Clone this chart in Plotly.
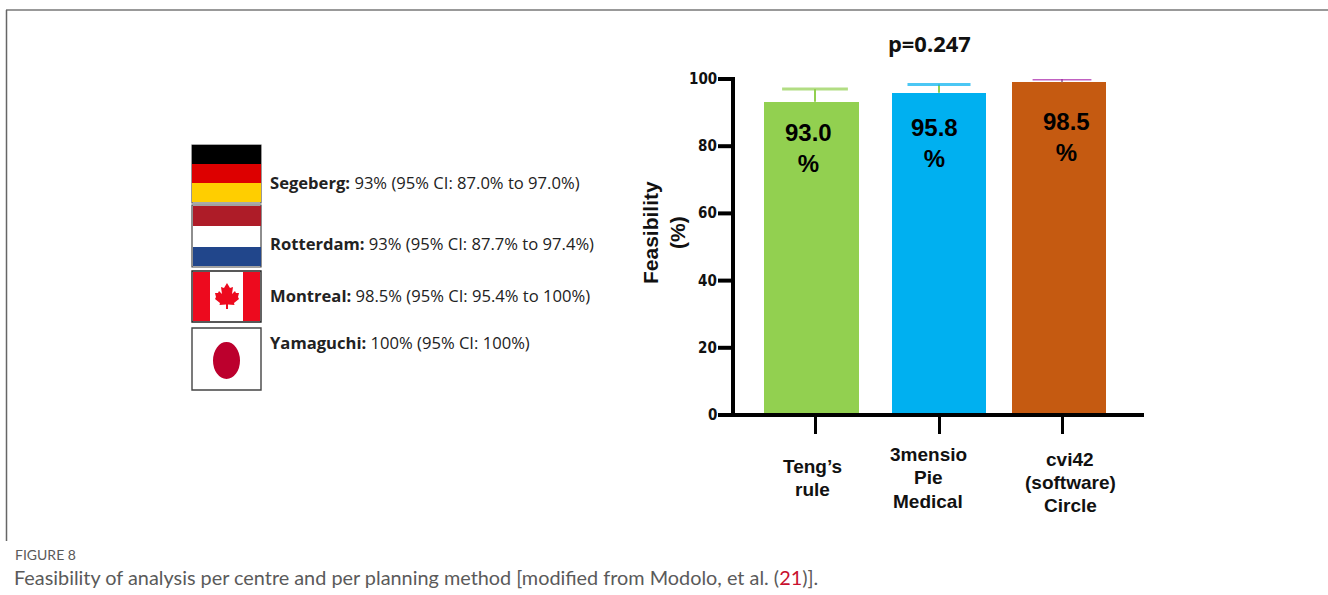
import plotly.graph_objects as go

W, H = 1328, 595

methods = ["Teng’s<br>rule", "3mensio<br>Pie<br>Medical", "cvi42<br>(software)<br>Circle"]
feasibility = [93.2, 95.9, 99.0]
ci_upper = [97.0, 98.4, 100.0]
bar_labels = ["93.0<br>%", "95.8<br>%", "98.5<br>%"]
bar_colors = ["#92D050", "#00B0F0", "#C55A11"]
cap_colors = ["#92D050", "#00B0F0", "#A61FA8"]
stem_colors = ["#92D050", "#92D050", "#A98AA8"]
y_ticks = [0, 20, 40, 60, 80, 100]

centres = ["<b>Segeberg:</b> 93% (95% CI: 87.0% to 97.0%)",
           "<b>Rotterdam:</b> 93% (95% CI: 87.7% to 97.4%)",
           "<b>Montreal:</b> 98.5% (95% CI: 95.4% to 100%)",
           "<b>Yamaguchi:</b> 100% (95% CI: 100%)"]

# pixel helpers for decoration (flags, frame, captions)
def px(x): return x / W
def py(y): return 1 - y / H

# axis layout in pixels
X0, X1 = 718, 1144
Y100, Y0 = 79, 415
bar_x = [811, 939, 1059]
bar_w = [95, 94, 94]
tick_x = [815, 939, 1062]
cap_w = [47, 45, 42]
label_x = [813, 928, 1070]
label_line_y = [[466, 489], [454, 477, 501], [459, 482, 505]]

fig = go.Figure()
for i in range(3):
    fig.add_trace(go.Bar(x=[bar_x[i]], y=[feasibility[i]], width=[bar_w[i]],
                         marker=dict(color=bar_colors[i], line=dict(width=0)),
                         showlegend=False, hoverinfo="skip"))
for i in range(3):
    fig.add_trace(go.Scatter(x=[tick_x[i], tick_x[i]], y=[feasibility[i], ci_upper[i]], mode="lines+markers",
                             line=dict(color=stem_colors[i], width=2),
                             marker=dict(symbol="line-ew", size=[0, cap_w[i]],
                                         line=dict(color=cap_colors[i], width=3)),
                             showlegend=False, hoverinfo="skip"))

fig.update_layout(
    width=W, height=H, margin=dict(l=0, r=0, t=0, b=0), autosize=False,
    paper_bgcolor="white", plot_bgcolor="white", bargap=0,
    xaxis=dict(domain=[px(X0), px(X1)], range=[X0, X1], showgrid=False, zeroline=False,
               tickmode="array", tickvals=tick_x, ticktext=[""] * 3, ticks="outside",
               ticklen=18, tickwidth=3, tickcolor="black", showline=False),
    yaxis=dict(domain=[py(Y0), py(Y100)], range=[0, 100], showgrid=False, zeroline=False,
               tickmode="array", tickvals=y_ticks, showticklabels=False, ticks=""),
)

shapes = []
def rect(x0, y0, x1, y1, fill, line=None, lw=0):
    shapes.append(dict(type="rect", xref="paper", yref="paper", x0=px(x0), x1=px(x1), y0=py(y0), y1=py(y1),
                       fillcolor=fill, line=dict(color=line or fill, width=lw), layer="above"))
def hline(x0, x1, y, color, w):
    shapes.append(dict(type="line", xref="paper", yref="paper", x0=px(x0), x1=px(x1), y0=py(y), y1=py(y),
                       line=dict(color=color, width=w), layer="above"))
def vline(x, y0, y1, color, w):
    shapes.append(dict(type="line", xref="paper", yref="paper", x0=px(x), x1=px(x), y0=py(y0), y1=py(y1),
                       line=dict(color=color, width=w), layer="above"))

# chart axes
hline(718, 1144, 415, "black", 4)
vline(733, 77, 416, "black", 4)
for v in y_ticks:
    y = Y0 - (Y0 - Y100) * v / 100
    hline(718, 733, y, "black", 4)

# frame
hline(6, 1328, 10, "#999999", 2)
vline(6.5, 10, 541, "#666666", 1.5)

# flags
rect(192, 145, 261, 203, "white", "#555555", 1.2)
rect(192, 145, 261, 164, "#000000")
rect(192, 164, 261, 183, "#DD0000")
rect(192, 183, 261, 202, "#FFCE00")
rect(192, 205, 261, 267, "white", "#444444", 1.2)
rect(193, 206, 261, 226, "#AE1C28")
rect(193, 247, 261, 266, "#21468B")
rect(192, 271, 261, 322, "white", "#222222", 1.4)
rect(193, 272, 210, 321, "#ED0A1E")
rect(243, 272, 260, 321, "#ED0A1E")
rect(192, 328, 261, 390, "white", "#444444", 1.4)
shapes.append(dict(type="circle", xref="paper", yref="paper", x0=px(213), x1=px(240), y0=py(342), y1=py(379),
                   fillcolor="#BC002D", line=dict(width=0), layer="above"))
# maple leaf
leaf = [(227, 283), (230, 288), (233, 287), (232, 294), (235, 291), (236, 293), (239, 293), (238, 297), (239, 299),
        (234, 303), (234.5, 305), (228, 304.5), (228, 309), (226, 309), (226, 304.5), (219.5, 305), (220, 303),
        (215, 299), (216, 297), (215, 293), (218, 293), (219, 291), (222, 294), (221, 287), (224, 288)]
path = "M " + " L ".join(f"{px(a):.5f} {py(b):.5f}" for a, b in leaf) + " Z"
shapes.append(dict(type="path", xref="paper", yref="paper", path=path, fillcolor="#ED0A1E", line=dict(width=0), layer="above"))
fig.update_layout(shapes=shapes)

ann = []
def text(x, y, s, size, family, color="black", anchor="left", angle=0):
    ann.append(dict(xref="paper", yref="paper", x=px(x), y=py(y), text=s, showarrow=False, xanchor=anchor,
                    yanchor="middle", align="center" if anchor == "center" else "left", textangle=angle,
                    font=dict(size=size, family=family, color=color)))

OPEN = "Open Sans"
ARIAL = "Liberation Sans"
NARROW = "DejaVu Sans Condensed, Liberation Sans"
for s, y in zip(centres, [182, 243, 295, 342]):
    text(268, y, s, 16.6, OPEN, "#222222")
text(929, 44, "<b>p=0.247</b>", 21.9, OPEN, "#111111", "center")
for t, x, y in zip(bar_labels, [808, 934, 1066], [148, 143, 137]):
    text(x, y, f"<b>{t}</b>", 24, ARIAL, "black", "center")
for v in y_ticks:
    y = Y0 - (Y0 - Y100) * v / 100
    text(719, y, f"<b>{v}</b>", 15, NARROW, "#111111", "right")
text(664, 233, "<b>Feasibility<br>(%)</b>", 21, ARIAL, "#111111", "center", -90)
for t, x, ys in zip(methods, label_x, label_line_y):
    for line, y in zip(t.split("<br>"), ys):
        text(x, y, f"<b>{line}</b>", 19, ARIAL, "#111111", "center")
text(12.5, 554, "FIGURE 8", 14, "Lato", "#5a5a5a")
text(12, 577, "Feasibility of analysis per centre and per planning method [modified from Modolo, et al. (<span style='color:#C8102E'>21</span>)].", 19.85, "Lato", "#5a5a5a")
fig.update_layout(annotations=ann)

fig.write_html("out.html", config=dict(displayModeBar=False),
               post_script="document.body.style.margin='0';document.body.style.overflow='hidden';")
